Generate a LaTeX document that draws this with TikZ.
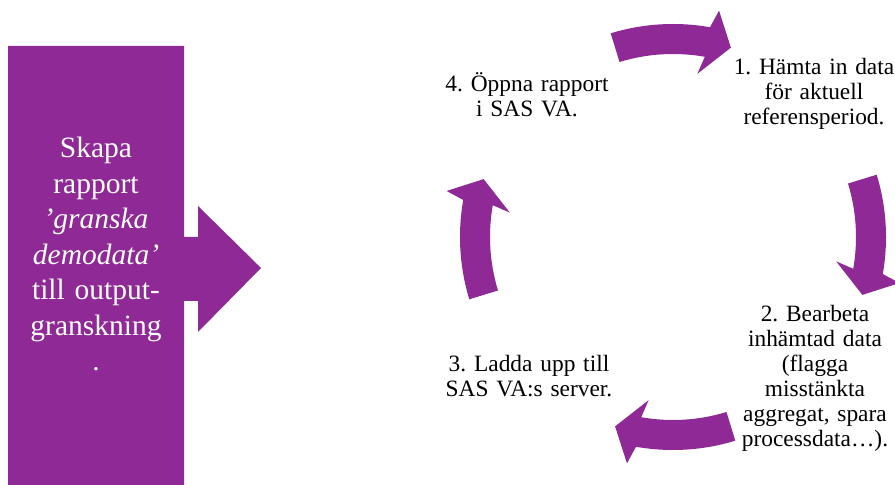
\documentclass[tikz,border=0pt]{standalone}
\usepackage{fontspec}
\setmainfont{Liberation Serif}
\frenchspacing
\definecolor{sasviolet}{RGB}{142,41,150}

\begin{document}
\begin{tikzpicture}[x=1pt,y=1pt,
    steptext/.style={anchor=base,text width=175pt,align=center,
        font=\fontsize{23.4}{25}\selectfont},
    boxtext/.style={anchor=base,text width=170pt,align=center,text=white,
        font=\fontsize{29.5}{35.5}\selectfont},
    cyclearrow/.style={fill=sasviolet}]
    \useasboundingbox (0,0) rectangle (895,485);
    \fill[sasviolet] (8,0) -- (8,439) -- (184,439) -- (184,248) -- (198,248)
        -- (198,279) -- (261,217) -- (198,153) -- (198,184) -- (184,184)
        -- (184,0) -- cycle;
    \node[boxtext] (skapa) at (96,327) {Skapa\\rapport\\\textit{’granska}\\\textit{demodata’}\\till output-\\granskning\\.};

    \coordinate (cyc) at (673,248);
    \foreach \c in {90,0,-90,180}
        \fill[cyclearrow,shift={(cyc)},rotate=\c] (17:213)
            arc[start angle=17,end angle=-10,radius=213] -- (-11.5:231)
            -- (-17:198) -- (-8.5:165) -- (-10:183)
            arc[start angle=-10,end angle=17,radius=183] -- cycle;

    \node[steptext] (s_1) at (814,410) {1. Hämta in data\\för aktuell\\referensperiod.};
    \node[steptext] (s_2) at (815,163) {2. Bearbeta\\inhämtad data\\(flagga\\misstänkta\\aggregat, spara\\processdata…).};
    \node[steptext] (s_3) at (529,113) {3. Ladda upp till\\SAS VA:s server.};
    \node[steptext] (s_4) at (527,393) {4. Öppna rapport\\i SAS VA.};
\end{tikzpicture}
\end{document}
